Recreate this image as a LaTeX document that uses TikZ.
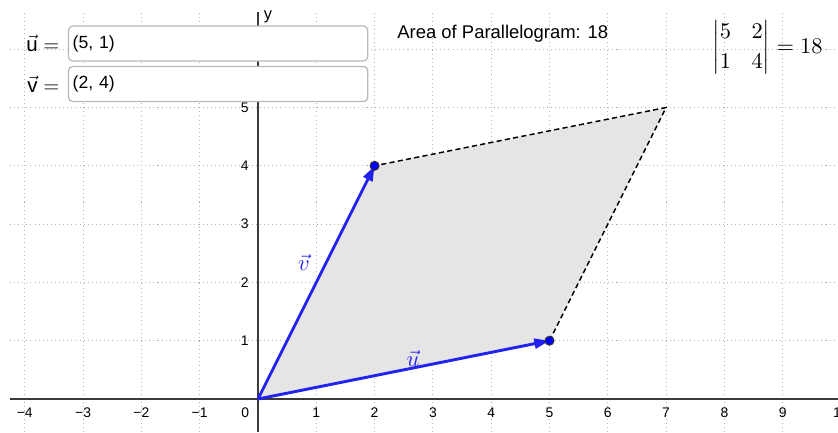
\documentclass[tikz,border=0pt]{standalone}
\usepackage{fontspec}
\setmainfont{Liberation Sans}
\usepackage{amsmath}
\usetikzlibrary{arrows.meta,positioning}
\definecolor{vecblue}{HTML}{2222F0}
\definecolor{dotblue}{HTML}{0000FF}
\definecolor{gridgray}{HTML}{B4B4B4}
\definecolor{axisgray}{HTML}{3A3A3A}
\definecolor{areafill}{HTML}{E5E5E5}
\definecolor{boxline}{HTML}{B9B9B9}

\begin{document}
\begin{tikzpicture}[
  gridline/.style={gridgray, line width=0.5pt, dash pattern=on 0.5pt off 1.5pt},
  axisline/.style={axisgray, line width=0.9pt},
  ticklab/.style={font=\fontsize{6.8}{8}\selectfont, inner sep=1pt},
  vecline/.style={vecblue, line width=1.4pt, -{Triangle[length=0.26cm, width=0.17cm]}},
  edgeline/.style={black, line width=0.7pt, dash pattern=on 2.5pt off 1.6pt},
  ptdot/.style={circle, fill=dotblue, draw=black!80, line width=0.5pt, inner sep=0pt, minimum size=4.4pt},
  inbox/.style={draw=boxline, fill=white, rounded corners=2pt, line width=0.6pt, minimum height=0.6cm,
    inner xsep=2pt, text width=4.99cm, align=left, font=\fontsize{8.6}{10}\selectfont, anchor=west},
  inlabel/.style={font=\fontsize{10}{12}\selectfont, inner sep=1pt},
  veclab/.style={vecblue, font=\fontsize{10.5}{12}\selectfont}
]
\useasboundingbox (-4.425,-0.566) rectangle (9.949,6.844);

\foreach \x in {-4,...,9}
  \draw[gridline] (\x,-0.566) -- (\x,6.638);
\foreach \y in {1,...,6}
  \draw[gridline] (-4.254,\y) -- (9.949,\y);

\coordinate (O) at (0,0);
\coordinate (U) at (5,1);
\coordinate (V) at (2,4);
\coordinate (W) at (7,5);

\fill[areafill] (O) -- (U) -- (W) -- (V) -- cycle;
\draw[edgeline] (U) -- (W) -- (V);

\draw[axisline] (-4.254,0) -- (9.949,0);
\draw[axisline] (0,-0.566) -- (0,6.638);
\node[anchor=west, font=\fontsize{8}{10}\selectfont, inner sep=1pt] (ylab) at (0.06,6.55) {y};

\foreach \x in {1,...,4}
  \node[ticklab] at (-\x,-0.24) {−\x};
\foreach \x in {1,...,10}
  \node[ticklab] at (\x,-0.24) {\x};
\node[ticklab] (zero) at (-0.22,-0.24) {0};
\foreach \y in {1,...,5}
  \node[ticklab, anchor=east] at (-0.12,\y) {\y};

\draw[vecline] (O) -- (U);
\draw[vecline] (O) -- (V);
\node[ptdot] (Udot) at (U) {};
\node[ptdot] (Vdot) at (V) {};
\node[veclab] (ulab) at (2.66,0.7) {$\vec{u}$};
\node[veclab] (vlab) at (0.79,2.35) {$\vec{v}$};

\node[inbox] (ubox) at (-3.259,6.098) {(5, 1)};
\node[inbox] (vbox) at (-3.259,5.403) {(2, 4)};
\node[inlabel, left=3pt of ubox] (ulabel) {$\vec{\mbox{u}} =$};
\node[inlabel, left=3pt of vbox] (vlabel) {$\vec{\mbox{v}} =$};

\node[font=\fontsize{9}{11}\selectfont] (area) at (4.2,6.27) {Area of Parallelogram: 18};
\node[font=\fontsize{10.6}{12}\selectfont] (det) at (8.74,6.03)
  {\renewcommand{\arraystretch}{1.2}$\begin{vmatrix} 5 & 2 \\ 1 & 4 \end{vmatrix} = 18$};
\end{tikzpicture}
\end{document}
